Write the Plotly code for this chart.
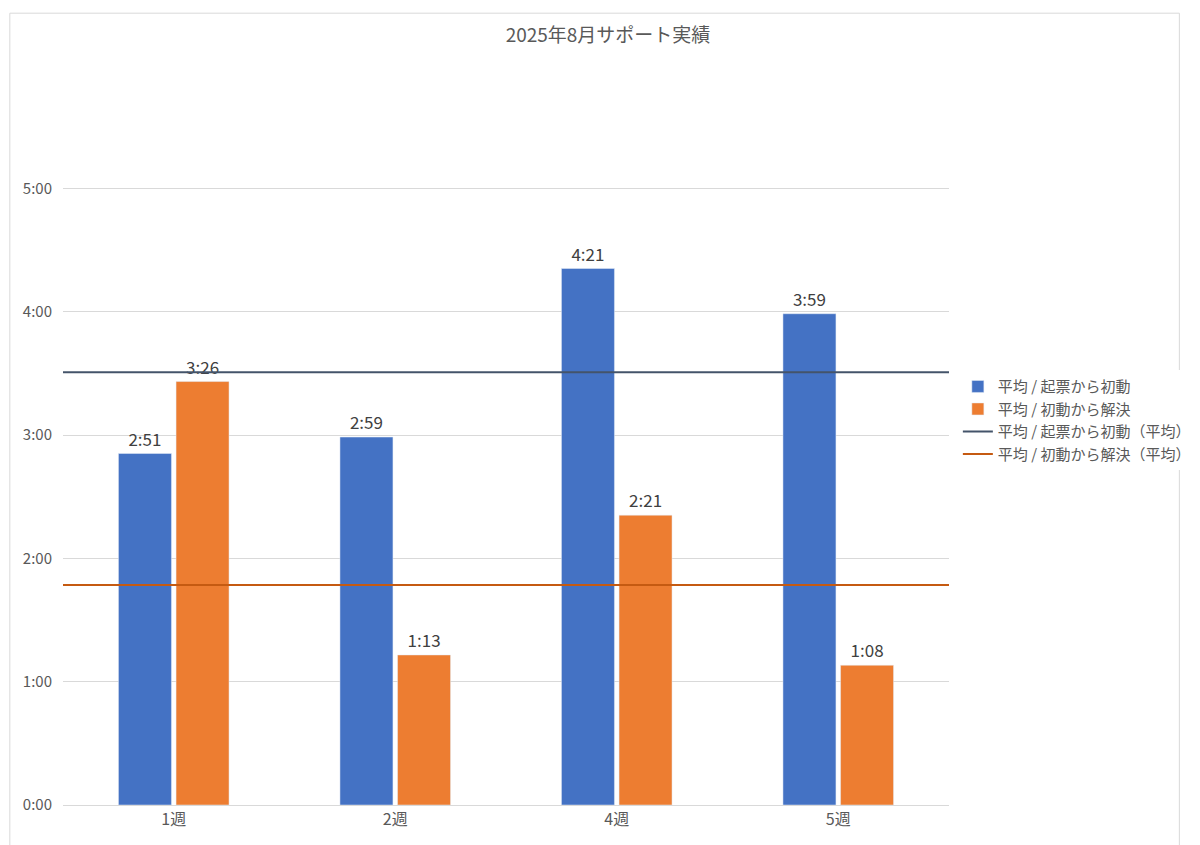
import plotly.graph_objects as go

weeks = ["1週", "2週", "4週", "5週"]
first_resp = [171, 179, 261, 239]      # minutes
first_resp_txt = ["2:51", "2:59", "4:21", "3:59"]
resolve = [206, 73, 141, 68]
resolve_txt = ["3:26", "1:13", "2:21", "1:08"]
avg_first = 210.5
avg_resolve = 107
tick_vals = [0, 60, 120, 180, 240, 300]
tick_text = ["0:00", "1:00", "2:00", "3:00", "4:00", "5:00"]

font = "Noto Sans CJK JP"
fig = go.Figure()
fig.add_trace(go.Bar(x=weeks, y=first_resp, name="平均 / 起票から初動", marker_color="#4472C4",
                     text=first_resp_txt, textposition="outside", cliponaxis=False,
                     textfont=dict(size=17, color="#404040")))
fig.add_trace(go.Bar(x=weeks, y=resolve, name="平均 / 初動から解決", marker_color="#ED7D31",
                     text=resolve_txt, textposition="outside", cliponaxis=False,
                     textfont=dict(size=17, color="#404040")))
fig.add_trace(go.Scatter(x=[0, 1], y=[avg_first, avg_first], mode="lines", xaxis="x2",
                         name="平均 / 起票から初動（平均）", line=dict(color="#44546A", width=2)))
fig.add_trace(go.Scatter(x=[0, 1], y=[avg_resolve, avg_resolve], mode="lines", xaxis="x2",
                         name="平均 / 初動から解決（平均）", line=dict(color="#C55A11", width=2)))

fig.update_layout(
    width=1200, height=845, paper_bgcolor="white", plot_bgcolor="white",
    font=dict(family=font, size=15, color="#595959"),
    title=dict(text="2025年8月サポート実績", x=0.5, y=0.975, font=dict(size=19, color="#595959")),
    margin=dict(l=55, r=240, t=57, b=48),
    barmode="group", bargap=0.48, bargroupgap=0.08,
    xaxis=dict(showgrid=False, showline=True, linecolor="#d9d9d9", tickfont=dict(size=16)),
    xaxis2=dict(overlaying="x", range=[0, 1], visible=False),
    yaxis=dict(range=[0, 360], tickvals=tick_vals, ticktext=tick_text, gridcolor="#d9d9d9",
               zeroline=False, tickfont=dict(size=15), ticklabelstandoff=10),
    legend=dict(x=1.01, y=0.52, yanchor="middle", font=dict(size=15, color="#595959"),
                traceorder="normal"),
    shapes=[dict(type="rect", xref="paper", yref="paper", x0=-0.06, x1=1.26, y0=-0.06, y1=1.07,
                 line=dict(color="#d9d9d9", width=1))],
)
fig.write_html("out.html")
